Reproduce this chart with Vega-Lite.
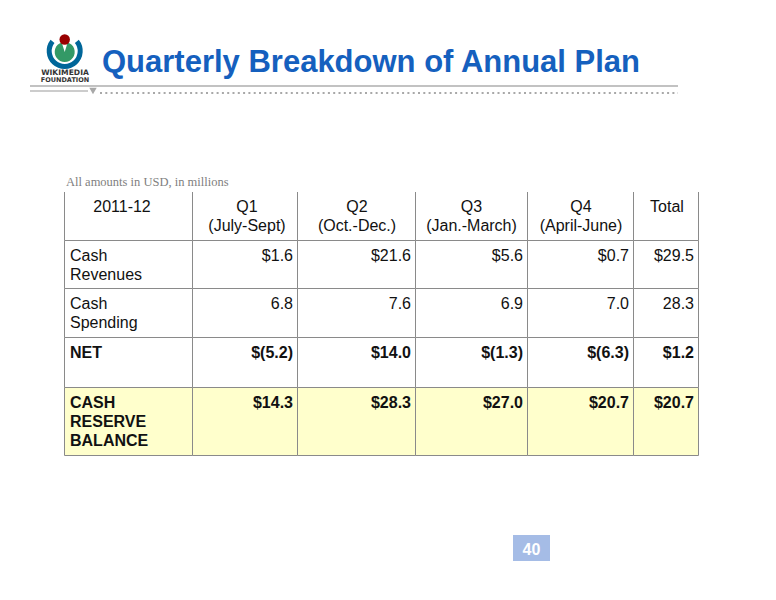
{
  "$schema": "https://vega.github.io/schema/vega-lite/v6.json",
  "width": 776,
  "height": 600,
  "autosize": {"type": "fit", "contains": "padding"},
  "padding": 0,
  "background": "white",
  "config": {"view": {"stroke": null}},
  "datasets": {
    "columns": [
      {"key": "label", "left": 64.5, "right": 192.5, "center": 122},
      {"key": "q1", "left": 192.5, "right": 297.5, "center": 247},
      {"key": "q2", "left": 297.5, "right": 415.5, "center": 357},
      {"key": "q3", "left": 415.5, "right": 527.5, "center": 471.5},
      {"key": "q4", "left": 527.5, "right": 633.5, "center": 581},
      {"key": "total", "left": 633.5, "right": 698.5, "center": 667}
    ],
    "rows": [
      {"key": "header", "top": 192, "bottom": 240.5},
      {"key": "rev", "top": 240.5, "bottom": 288.5},
      {"key": "spend", "top": 288.5, "bottom": 337.5},
      {"key": "net", "top": 337.5, "bottom": 387.5},
      {"key": "reserve", "top": 387.5, "bottom": 455.5}
    ],
    "cells": [
      {"row": "header", "col": "label", "text": "2011-12"},
      {"row": "header", "col": "q1", "text": "Q1\n(July-Sept)"},
      {"row": "header", "col": "q2", "text": "Q2\n(Oct.-Dec.)"},
      {"row": "header", "col": "q3", "text": "Q3\n(Jan.-March)"},
      {"row": "header", "col": "q4", "text": "Q4\n(April-June)"},
      {"row": "header", "col": "total", "text": "Total"},
      {"row": "rev", "col": "label", "text": "Cash\nRevenues"},
      {"row": "rev", "col": "q1", "text": "$1.6"},
      {"row": "rev", "col": "q2", "text": "$21.6"},
      {"row": "rev", "col": "q3", "text": "$5.6"},
      {"row": "rev", "col": "q4", "text": "$0.7"},
      {"row": "rev", "col": "total", "text": "$29.5"},
      {"row": "spend", "col": "label", "text": "Cash\nSpending"},
      {"row": "spend", "col": "q1", "text": "6.8"},
      {"row": "spend", "col": "q2", "text": "7.6"},
      {"row": "spend", "col": "q3", "text": "6.9"},
      {"row": "spend", "col": "q4", "text": "7.0"},
      {"row": "spend", "col": "total", "text": "28.3"},
      {"row": "net", "col": "label", "text": "NET"},
      {"row": "net", "col": "q1", "text": "$(5.2)"},
      {"row": "net", "col": "q2", "text": "$14.0"},
      {"row": "net", "col": "q3", "text": "$(1.3)"},
      {"row": "net", "col": "q4", "text": "$(6.3)"},
      {"row": "net", "col": "total", "text": "$1.2"},
      {"row": "reserve", "col": "label", "text": "CASH\nRESERVE\nBALANCE"},
      {"row": "reserve", "col": "q1", "text": "$14.3"},
      {"row": "reserve", "col": "q2", "text": "$28.3"},
      {"row": "reserve", "col": "q3", "text": "$27.0"},
      {"row": "reserve", "col": "q4", "text": "$20.7"},
      {"row": "reserve", "col": "total", "text": "$20.7"}
    ]
  },
  "layer": [
    {
      "data": {"name": "cells"},
      "transform": [
        {"filter": "datum.row !== 'header'"},
        {"lookup": "col", "from": {"data": {"name": "columns"}, "key": "key", "fields": ["left", "right", "center"]}},
        {"lookup": "row", "from": {"data": {"name": "rows"}, "key": "key", "fields": ["top", "bottom"]}}
      ],
      "mark": {"type": "rect", "stroke": "#8a8a8a", "strokeWidth": 1},
      "encoding": {
        "x": {"field": "left", "type": "quantitative", "scale": {"domain": [0, 776], "nice": false, "zero": false}, "axis": null},
        "x2": {"field": "right"},
        "y": {"field": "top", "type": "quantitative", "scale": {"domain": [0, 600], "nice": false, "zero": false, "reverse": true}, "axis": null},
        "y2": {"field": "bottom"},
        "fill": {"condition": {"test": "datum.row === 'reserve'", "value": "#ffffcc"}, "value": "#ffffff"}
      }
    },
    {
      "data": {"name": "cells"},
      "transform": [
        {"filter": "datum.row === 'header'"},
        {"lookup": "col", "from": {"data": {"name": "columns"}, "key": "key", "fields": ["left", "right", "center"]}},
        {"lookup": "row", "from": {"data": {"name": "rows"}, "key": "key", "fields": ["top", "bottom"]}}
      ],
      "mark": {"type": "rule", "stroke": "#8a8a8a", "strokeWidth": 1},
      "encoding": {
        "x": {"field": "left", "type": "quantitative", "scale": {"domain": [0, 776], "nice": false, "zero": false}, "axis": null},
        "y": {"field": "top", "type": "quantitative", "scale": {"domain": [0, 600], "nice": false, "zero": false, "reverse": true}, "axis": null},
        "y2": {"field": "bottom"}
      }
    },
    {
      "data": {"name": "cells"},
      "transform": [
        {"filter": "datum.row === 'header' && datum.col === 'total'"},
        {"lookup": "col", "from": {"data": {"name": "columns"}, "key": "key", "fields": ["left", "right", "center"]}},
        {"lookup": "row", "from": {"data": {"name": "rows"}, "key": "key", "fields": ["top", "bottom"]}}
      ],
      "mark": {"type": "rule", "stroke": "#8a8a8a", "strokeWidth": 1},
      "encoding": {
        "x": {"field": "right", "type": "quantitative", "scale": {"domain": [0, 776], "nice": false, "zero": false}, "axis": null},
        "y": {"field": "top", "type": "quantitative", "scale": {"domain": [0, 600], "nice": false, "zero": false, "reverse": true}, "axis": null},
        "y2": {"field": "bottom"}
      }
    },
    {
      "data": {"name": "cells"},
      "transform": [
        {"filter": "datum.row === 'header'"},
        {"lookup": "col", "from": {"data": {"name": "columns"}, "key": "key", "fields": ["left", "right", "center"]}},
        {"lookup": "row", "from": {"data": {"name": "rows"}, "key": "key", "fields": ["top", "bottom"]}}
      ],
      "mark": {"type": "text", "align": "center", "baseline": "alphabetic", "dy": 20, "lineBreak": "\n", "lineHeight": 19, "font": "Liberation Sans", "fontSize": 16, "color": "#111111"},
      "encoding": {
        "x": {"field": "center", "type": "quantitative", "scale": {"domain": [0, 776], "nice": false, "zero": false}, "axis": null},
        "y": {"field": "top", "type": "quantitative", "scale": {"domain": [0, 600], "nice": false, "zero": false, "reverse": true}, "axis": null},
        "text": {"field": "text"}
      }
    },
    {
      "data": {"name": "cells"},
      "transform": [
        {"filter": "datum.col === 'label' && (datum.row === 'rev' || datum.row === 'spend')"},
        {"lookup": "col", "from": {"data": {"name": "columns"}, "key": "key", "fields": ["left", "right", "center"]}},
        {"lookup": "row", "from": {"data": {"name": "rows"}, "key": "key", "fields": ["top", "bottom"]}}
      ],
      "mark": {"type": "text", "align": "left", "baseline": "alphabetic", "dx": 5.5, "dy": 20, "lineBreak": "\n", "lineHeight": 19, "font": "Liberation Sans", "fontSize": 16, "color": "#111111"},
      "encoding": {
        "x": {"field": "left", "type": "quantitative", "scale": {"domain": [0, 776], "nice": false, "zero": false}, "axis": null},
        "y": {"field": "top", "type": "quantitative", "scale": {"domain": [0, 600], "nice": false, "zero": false, "reverse": true}, "axis": null},
        "text": {"field": "text"}
      }
    },
    {
      "data": {"name": "cells"},
      "transform": [
        {"filter": "datum.col === 'label' && (datum.row === 'net' || datum.row === 'reserve')"},
        {"lookup": "col", "from": {"data": {"name": "columns"}, "key": "key", "fields": ["left", "right", "center"]}},
        {"lookup": "row", "from": {"data": {"name": "rows"}, "key": "key", "fields": ["top", "bottom"]}}
      ],
      "mark": {"type": "text", "align": "left", "baseline": "alphabetic", "dx": 5.5, "dy": 20, "lineBreak": "\n", "lineHeight": 19, "font": "Liberation Sans", "fontSize": 16, "fontWeight": "bold", "color": "#111111"},
      "encoding": {
        "x": {"field": "left", "type": "quantitative", "scale": {"domain": [0, 776], "nice": false, "zero": false}, "axis": null},
        "y": {"field": "top", "type": "quantitative", "scale": {"domain": [0, 600], "nice": false, "zero": false, "reverse": true}, "axis": null},
        "text": {"field": "text"}
      }
    },
    {
      "data": {"name": "cells"},
      "transform": [
        {"filter": "datum.col !== 'label' && (datum.row === 'rev' || datum.row === 'spend')"},
        {"lookup": "col", "from": {"data": {"name": "columns"}, "key": "key", "fields": ["left", "right", "center"]}},
        {"lookup": "row", "from": {"data": {"name": "rows"}, "key": "key", "fields": ["top", "bottom"]}}
      ],
      "mark": {"type": "text", "align": "right", "baseline": "alphabetic", "dx": -4.5, "dy": 20, "font": "Liberation Sans", "fontSize": 16, "color": "#111111"},
      "encoding": {
        "x": {"field": "right", "type": "quantitative", "scale": {"domain": [0, 776], "nice": false, "zero": false}, "axis": null},
        "y": {"field": "top", "type": "quantitative", "scale": {"domain": [0, 600], "nice": false, "zero": false, "reverse": true}, "axis": null},
        "text": {"field": "text"}
      }
    },
    {
      "data": {"name": "cells"},
      "transform": [
        {"filter": "datum.col !== 'label' && (datum.row === 'net' || datum.row === 'reserve')"},
        {"lookup": "col", "from": {"data": {"name": "columns"}, "key": "key", "fields": ["left", "right", "center"]}},
        {"lookup": "row", "from": {"data": {"name": "rows"}, "key": "key", "fields": ["top", "bottom"]}}
      ],
      "mark": {"type": "text", "align": "right", "baseline": "alphabetic", "dx": -4.5, "dy": 20, "font": "Liberation Sans", "fontSize": 16, "fontWeight": "bold", "color": "#111111"},
      "encoding": {
        "x": {"field": "right", "type": "quantitative", "scale": {"domain": [0, 776], "nice": false, "zero": false}, "axis": null},
        "y": {"field": "top", "type": "quantitative", "scale": {"domain": [0, 600], "nice": false, "zero": false, "reverse": true}, "axis": null},
        "text": {"field": "text"}
      }
    },
    {
      "data": {"values": [{"note": "All amounts in USD, in millions"}]},
      "mark": {"type": "text", "align": "left", "baseline": "alphabetic", "font": "Liberation Serif", "fontSize": 12.5, "color": "#808080"},
      "encoding": {
        "x": {"datum": 66, "type": "quantitative", "scale": {"domain": [0, 776], "nice": false, "zero": false}, "axis": null},
        "y": {"datum": 186, "type": "quantitative", "scale": {"domain": [0, 600], "nice": false, "zero": false, "reverse": true}, "axis": null},
        "text": {"field": "note"}
      }
    },
    {
      "data": {"values": [{"title": "Quarterly Breakdown of Annual Plan"}]},
      "mark": {"type": "text", "align": "left", "baseline": "alphabetic", "font": "Liberation Sans", "fontSize": 31, "fontWeight": "bold", "color": "#1560be"},
      "encoding": {
        "x": {"datum": 102, "type": "quantitative", "scale": {"domain": [0, 776], "nice": false, "zero": false}, "axis": null},
        "y": {"datum": 72, "type": "quantitative", "scale": {"domain": [0, 600], "nice": false, "zero": false, "reverse": true}, "axis": null},
        "text": {"field": "title"}
      }
    },
    {
      "data": {"values": [{}]},
      "mark": {"type": "rule", "stroke": "#c2c2c2", "strokeWidth": 2},
      "encoding": {
        "x": {"datum": 30, "type": "quantitative", "scale": {"domain": [0, 776], "nice": false, "zero": false}, "axis": null},
        "x2": {"datum": 678},
        "y": {"datum": 86, "type": "quantitative", "scale": {"domain": [0, 600], "nice": false, "zero": false, "reverse": true}, "axis": null}
      }
    },
    {
      "data": {"values": [{}]},
      "mark": {"type": "rule", "stroke": "#cccccc", "strokeWidth": 2},
      "encoding": {
        "x": {"datum": 30, "type": "quantitative", "scale": {"domain": [0, 776], "nice": false, "zero": false}, "axis": null},
        "x2": {"datum": 88},
        "y": {"datum": 91, "type": "quantitative", "scale": {"domain": [0, 600], "nice": false, "zero": false, "reverse": true}, "axis": null}
      }
    },
    {
      "data": {"values": [{}]},
      "mark": {"type": "rule", "stroke": "#a8a8a8", "strokeWidth": 2, "strokeDash": [2, 3.3]},
      "encoding": {
        "x": {"datum": 100, "type": "quantitative", "scale": {"domain": [0, 776], "nice": false, "zero": false}, "axis": null},
        "x2": {"datum": 678},
        "y": {"datum": 93, "type": "quantitative", "scale": {"domain": [0, 600], "nice": false, "zero": false, "reverse": true}, "axis": null}
      }
    },
    {
      "data": {"values": [{}]},
      "mark": {"type": "point", "shape": "triangle-down", "filled": true, "size": 55, "color": "#a8a8a8", "opacity": 1},
      "encoding": {
        "x": {"datum": 93, "type": "quantitative", "scale": {"domain": [0, 776], "nice": false, "zero": false}, "axis": null},
        "y": {"datum": 91, "type": "quantitative", "scale": {"domain": [0, 600], "nice": false, "zero": false, "reverse": true}, "axis": null}
      }
    },
    {
      "data": {"values": [{}]},
      "mark": {"type": "arc", "radius": 18, "radius2": 13, "theta": 0.9, "theta2": 5.38, "color": "#006699"},
      "encoding": {
        "x": {"datum": 64.7, "type": "quantitative", "scale": {"domain": [0, 776], "nice": false, "zero": false}, "axis": null},
        "y": {"datum": 51, "type": "quantitative", "scale": {"domain": [0, 600], "nice": false, "zero": false, "reverse": true}, "axis": null}
      }
    },
    {
      "data": {"values": [{}]},
      "mark": {"type": "arc", "radius": 10, "theta": 0.3, "theta2": 5.98, "color": "#339966"},
      "encoding": {
        "x": {"datum": 64.7, "type": "quantitative", "scale": {"domain": [0, 776], "nice": false, "zero": false}, "axis": null},
        "y": {"datum": 52, "type": "quantitative", "scale": {"domain": [0, 600], "nice": false, "zero": false, "reverse": true}, "axis": null}
      }
    },
    {
      "data": {"values": [{}]},
      "mark": {"type": "point", "shape": "circle", "filled": true, "size": 110, "color": "#990000", "opacity": 1},
      "encoding": {
        "x": {"datum": 64.7, "type": "quantitative", "scale": {"domain": [0, 776], "nice": false, "zero": false}, "axis": null},
        "y": {"datum": 39.5, "type": "quantitative", "scale": {"domain": [0, 600], "nice": false, "zero": false, "reverse": true}, "axis": null}
      }
    },
    {
      "data": {"values": [{"word": "WIKIMEDIA"}]},
      "mark": {"type": "text", "align": "center", "baseline": "alphabetic", "font": "DejaVu Sans", "fontSize": 7.6, "fontWeight": "bold", "color": "#333333"},
      "encoding": {
        "x": {"datum": 65, "type": "quantitative", "scale": {"domain": [0, 776], "nice": false, "zero": false}, "axis": null},
        "y": {"datum": 75, "type": "quantitative", "scale": {"domain": [0, 600], "nice": false, "zero": false, "reverse": true}, "axis": null},
        "text": {"field": "word"}
      }
    },
    {
      "data": {"values": [{"word": "FOUNDATION"}]},
      "mark": {"type": "text", "align": "center", "baseline": "alphabetic", "font": "DejaVu Sans", "fontSize": 6.5, "fontWeight": "bold", "color": "#333333"},
      "encoding": {
        "x": {"datum": 65, "type": "quantitative", "scale": {"domain": [0, 776], "nice": false, "zero": false}, "axis": null},
        "y": {"datum": 81.5, "type": "quantitative", "scale": {"domain": [0, 600], "nice": false, "zero": false, "reverse": true}, "axis": null},
        "text": {"field": "word"}
      }
    },
    {
      "data": {"values": [{}]},
      "mark": {"type": "rect", "color": "#a5bce6"},
      "encoding": {
        "x": {"datum": 513, "type": "quantitative", "scale": {"domain": [0, 776], "nice": false, "zero": false}, "axis": null},
        "x2": {"datum": 550},
        "y": {"datum": 535, "type": "quantitative", "scale": {"domain": [0, 600], "nice": false, "zero": false, "reverse": true}, "axis": null},
        "y2": {"datum": 561}
      }
    },
    {
      "data": {"values": [{"page": "40"}]},
      "mark": {"type": "text", "align": "center", "baseline": "alphabetic", "font": "Liberation Sans", "fontSize": 16, "fontWeight": "bold", "color": "#ffffff"},
      "encoding": {
        "x": {"datum": 531.5, "type": "quantitative", "scale": {"domain": [0, 776], "nice": false, "zero": false}, "axis": null},
        "y": {"datum": 554.5, "type": "quantitative", "scale": {"domain": [0, 600], "nice": false, "zero": false, "reverse": true}, "axis": null},
        "text": {"field": "page"}
      }
    }
  ]
}
